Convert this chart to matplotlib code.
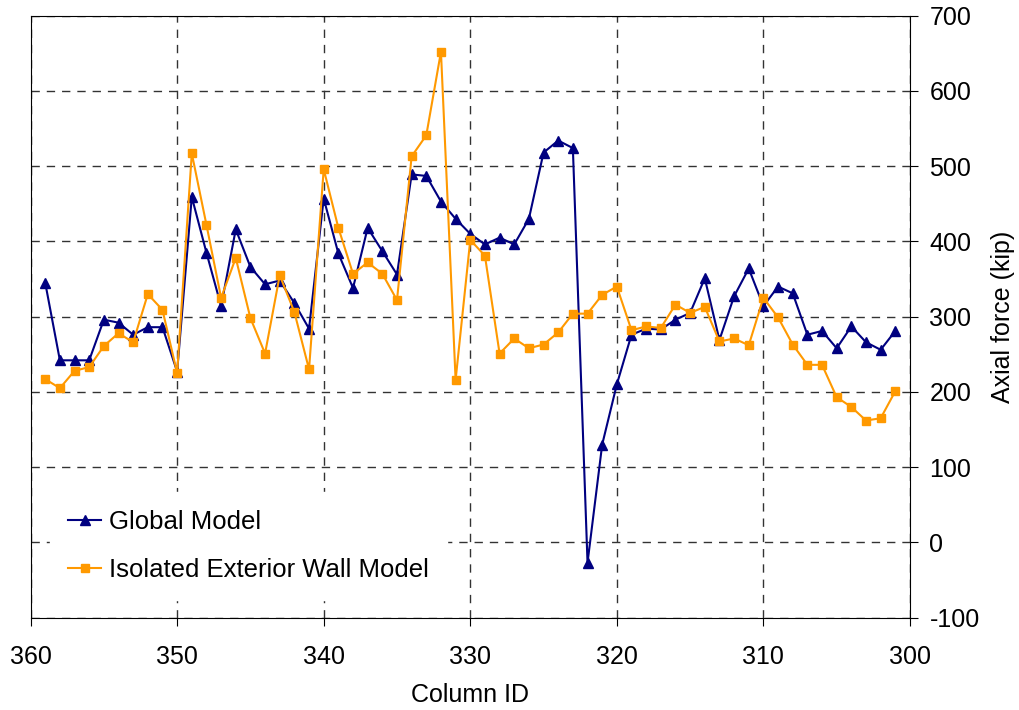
import numpy as np
import matplotlib.pyplot as plt

plt.rcParams['font.family'] = ['Liberation Sans', 'DejaVu Sans']
plt.rcParams['axes.unicode_minus'] = False

column_id = np.arange(359, 300, -1)

global_model = [345, 242, 242, 242, 296, 292, 276, 286, 286, 227,
                459, 385, 314, 416, 366, 343, 348, 318, 284, 457,
                384, 338, 418, 387, 356, 489, 487, 453, 430, 410,
                396, 405, 396, 430, 518, 534, 524, -27, 130, 210,
                276, 284, 283, 296, 305, 351, 269, 327, 364, 314,
                340, 331, 276, 281, 258, 287, 266, 256, 281]

isolated_wall = [217, 205, 228, 233, 261, 278, 266, 330, 309, 225,
                 517, 422, 325, 378, 298, 251, 355, 306, 230, 496,
                 418, 357, 372, 357, 322, 513, 541, 652, 216, 402,
                 381, 251, 271, 258, 263, 279, 304, 304, 329, 340,
                 282, 287, 285, 316, 305, 313, 267, 271, 262, 325,
                 299, 263, 236, 236, 193, 180, 162, 165, 201]

fig = plt.figure(figsize=(10.19, 7.10), dpi=100)
ax = fig.add_axes([0.030, 0.130, 0.863, 0.848])

ax.plot(column_id, global_model, color='#000080', marker='^', markersize=7,
        linewidth=1.5, label='Global Model', zorder=3)
ax.plot(column_id, isolated_wall, color='#FF9900', marker='s', markersize=6,
        linewidth=1.5, label='Isolated Exterior Wall Model', zorder=3)

ax.set_xlim(360, 300)
ax.set_ylim(-100, 700)
ax.set_xticks(range(360, 299, -10))
ax.set_yticks(range(-100, 701, 100))

ax.yaxis.tick_right()
ax.yaxis.set_label_position('right')
ax.set_ylabel('Axial force (kip)', fontsize=18, labelpad=8)
ax.set_xlabel('Column ID', fontsize=18, labelpad=10)
ax.tick_params(labelsize=18, length=6, direction='out')
ax.tick_params(axis='x', pad=14)
ax.tick_params(axis='y', pad=8)

ax.grid(True, color='#333333', linestyle=(0, (6, 5)), linewidth=1, zorder=0)
ax.set_axisbelow(True)

leg = ax.legend(loc='center left', bbox_to_anchor=(0.022, 0.1195), fontsize=18.5,
                frameon=True, facecolor='white', edgecolor='white', framealpha=1,
                fancybox=False, labelspacing=0.95, handlelength=1.3,
                handletextpad=0.3, borderpad=0.7, borderaxespad=0)
leg.set_zorder(5)

plt.savefig('out.png', dpi=100)
